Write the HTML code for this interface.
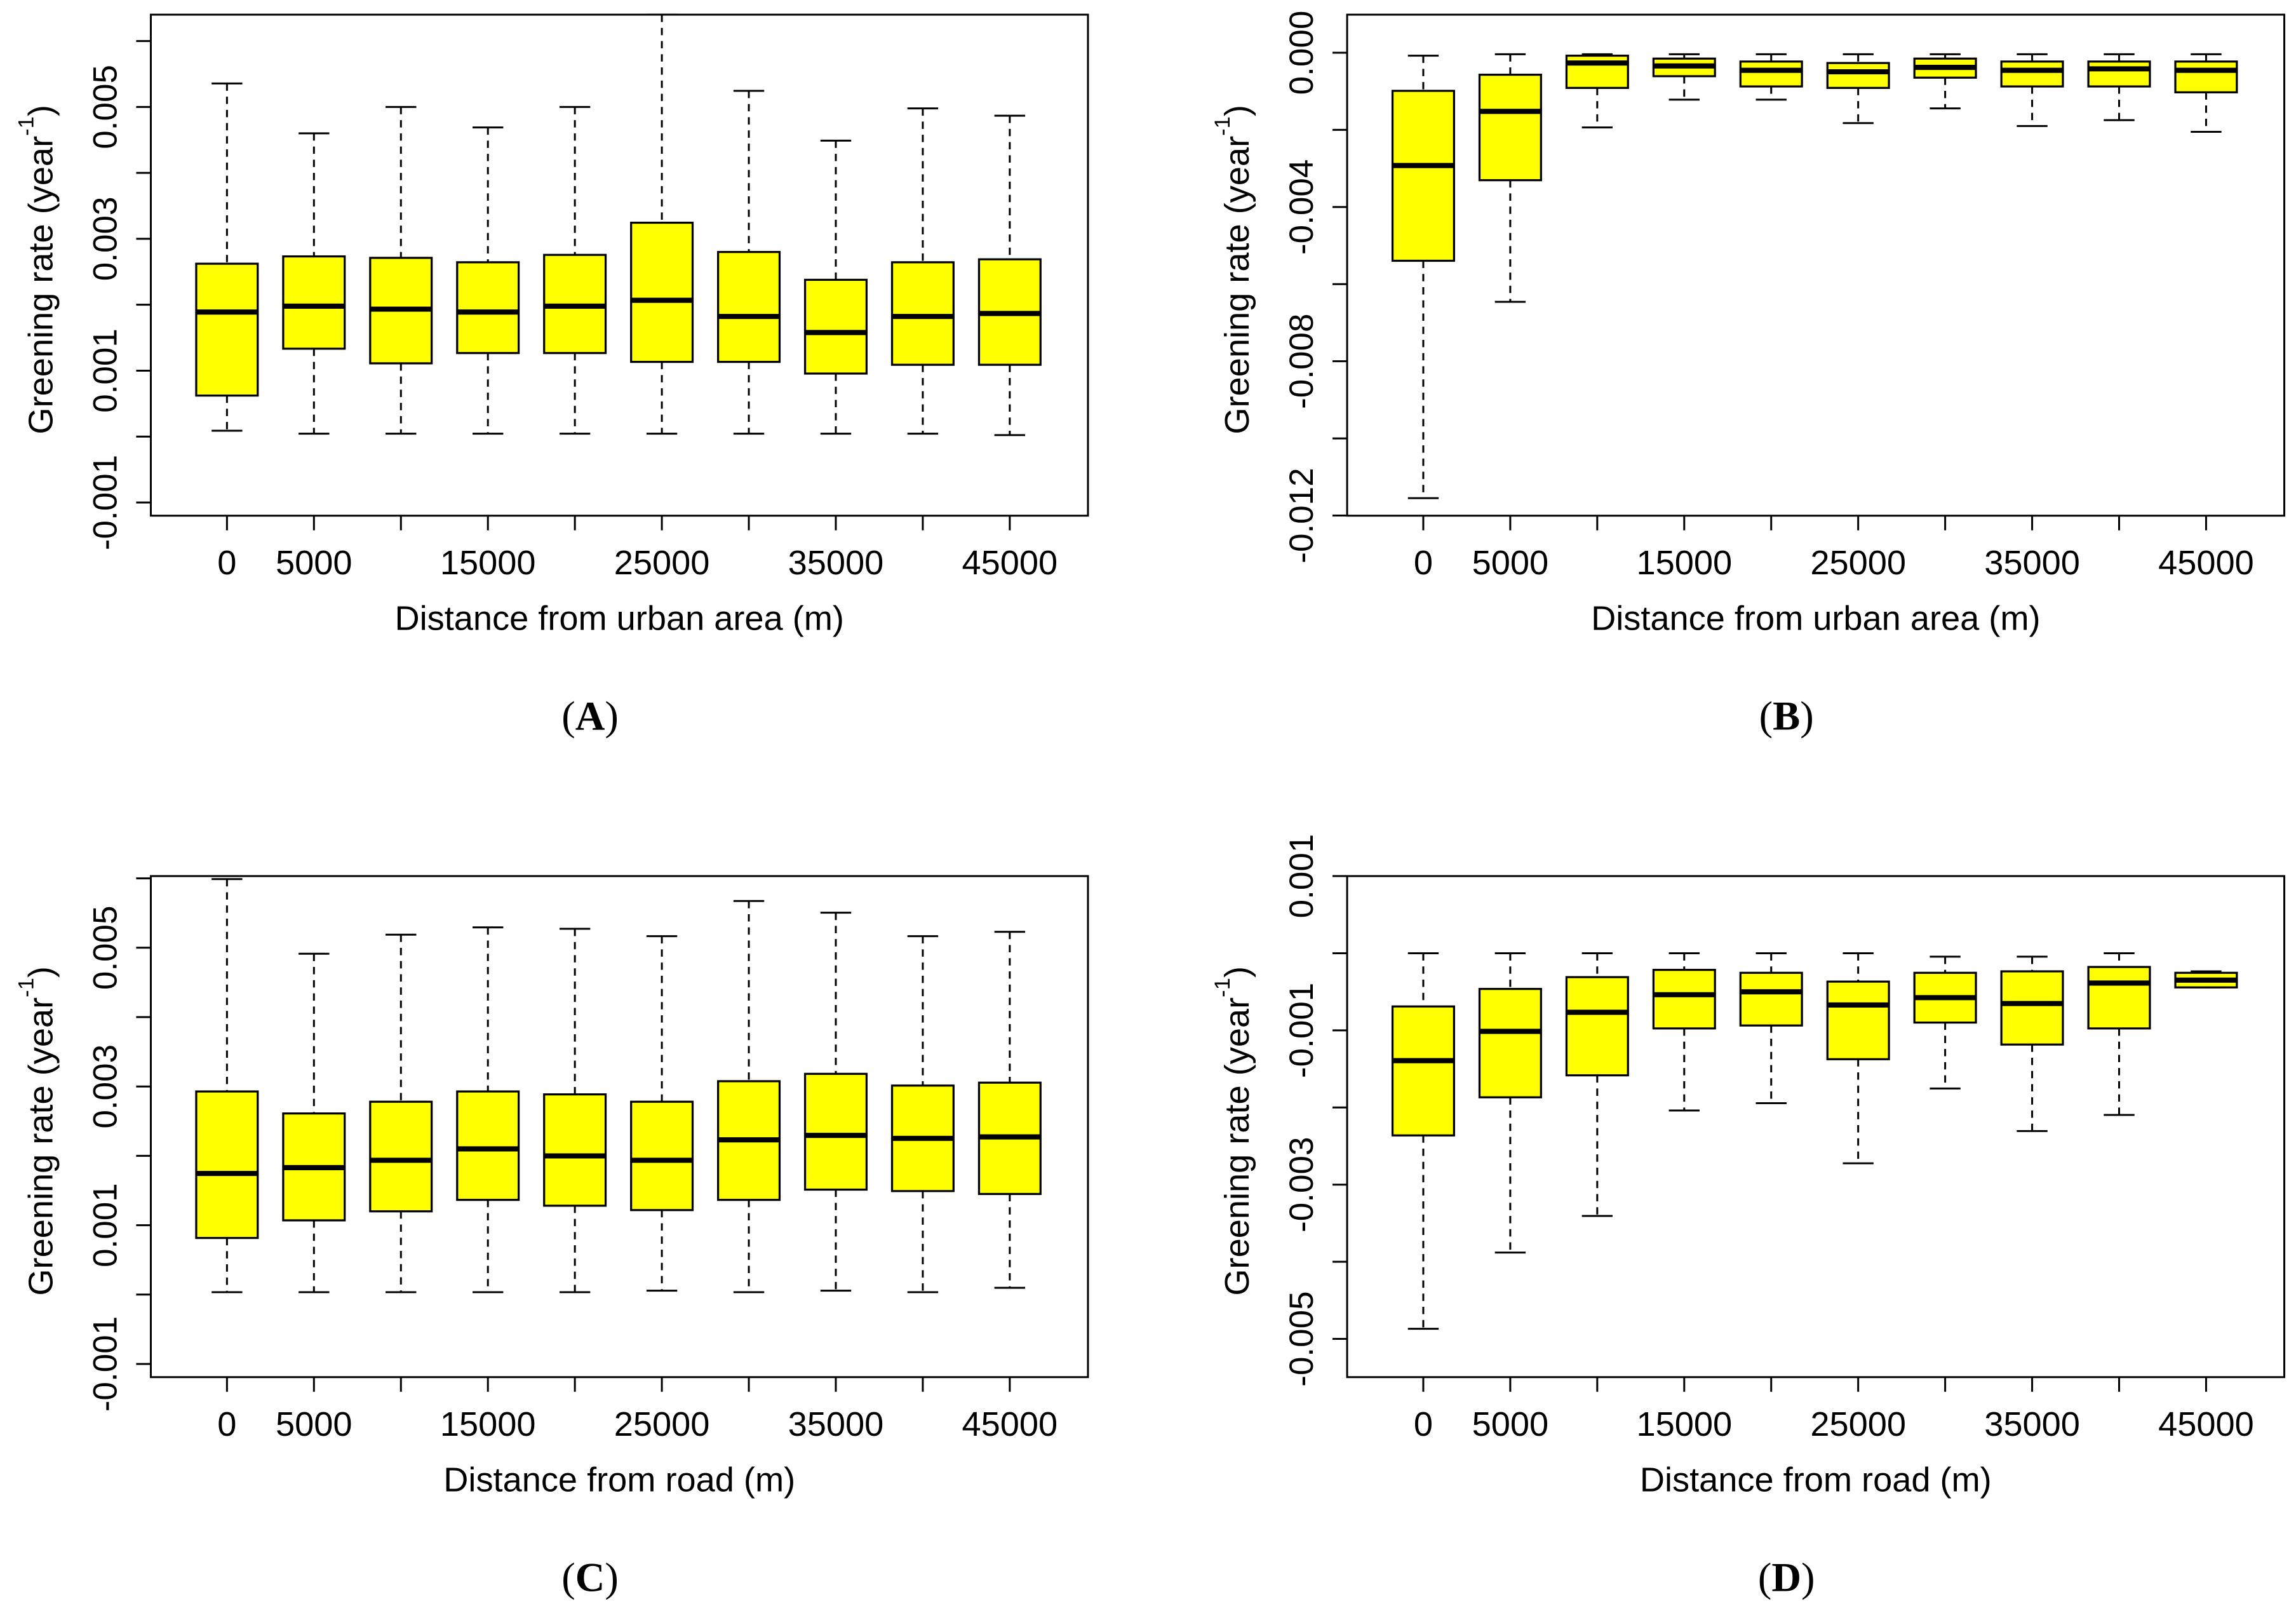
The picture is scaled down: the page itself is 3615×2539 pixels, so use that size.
<!DOCTYPE html>
<html><head><meta charset="utf-8"><style>
html,body{margin:0;padding:0;background:#fff}
svg{display:block}
text{font-family:"Liberation Sans",Arial,sans-serif;fill:#000}
.pl{font-family:"Liberation Serif","Times New Roman",serif}
</style></head><body>
<svg id="fig" width="3615" height="2539" viewBox="0 0 1568 1101" preserveAspectRatio="none" xmlns="http://www.w3.org/2000/svg"></svg>
<script>
const categories=[0,5000,10000,15000,20000,25000,30000,35000,40000,45000];
const xLabels=["0","5000","","15000","","25000","","35000","","45000"];
// Panel A stats: [whiskerLow, Q1, median, Q3, whiskerHigh]
const aLow=[0.000089,0.000044,0.000044,0.000044,0.000044,0.000044,0.000044,0.000044,0.000044,0.000022];
const aQ1=[0.000622,0.001333,0.001111,0.001267,0.001267,0.001133,0.001133,0.000956,0.001089,0.001089];
const aMed=[0.001889,0.001978,0.001933,0.001889,0.001978,0.002067,0.001822,0.001578,0.001822,0.001867];
const aQ3=[0.002622,0.002733,0.002711,0.002644,0.002756,0.003244,0.0028,0.002378,0.002644,0.002689];
const aHigh=[0.005356,0.0046,0.005,0.004689,0.005,0.0064,0.005244,0.004489,0.004978,0.004867];
const bLow=[-0.011548,-0.006458,-0.001937,-0.001216,-0.001216,-0.001823,-0.001444,-0.0019,-0.001747,-0.002051];
const bQ1=[-0.005394,-0.003305,-0.000912,-0.000608,-0.000874,-0.000912,-0.000646,-0.000874,-0.000874,-0.001026];
const bMed=[-0.002925,-0.00152,-0.000266,-0.000342,-0.000456,-0.000494,-0.00038,-0.000456,-0.000418,-0.000456];
const bQ3=[-0.000988,-0.00057,-0.000076,-0.000152,-0.000228,-0.000266,-0.000152,-0.000228,-0.000228,-0.000228];
const bHigh=[-0.000076,-0.000038,-0.000038,-0.000038,-0.000038,-0.000038,-0.000038,-0.000038,-0.000038,-0.000038];
const cLow=[0.000035,0.000035,0.000035,0.000035,0.000035,0.000056,0.000035,0.000056,0.000035,0.000098];
const cQ1=[0.000816,0.00107,0.0012,0.001365,0.001281,0.001218,0.001365,0.001513,0.001492,0.00145];
const cMed=[0.001746,0.00183,0.001936,0.0021,0.001999,0.001936,0.002231,0.002295,0.002252,0.002273];
const cQ3=[0.002928,0.002611,0.00278,0.002928,0.002886,0.00278,0.003076,0.003182,0.003013,0.003055];
const cHigh=[0.00599,0.004913,0.005188,0.005294,0.005273,0.005167,0.005674,0.005505,0.005167,0.00523];
const dLow=[-0.004869,-0.003881,-0.003406,-0.002039,-0.001944,-0.002723,-0.001754,-0.002305,-0.002096,-0.000443];
const dQ1=[-0.002362,-0.001868,-0.001583,-0.000975,-0.000937,-0.001374,-0.000899,-0.001184,-0.000975,-0.000443];
const dMed=[-0.001393,-0.001013,-0.000766,-0.000538,-0.0005,-0.000671,-0.000576,-0.000652,-0.000387,-0.000349];
const dQ3=[-0.00069,-0.000463,-0.00031,-0.000216,-0.000254,-0.000368,-0.000254,-0.000235,-0.000178,-0.000254];
const dHigh=[0,0,0,0,0,0,-0.000045,-0.000045,0,-0.000235];
const ticksAC=[-0.001,0,0.001,0.002,0.003,0.004,0.005,0.006];
const labelsAC=["-0.001","","0.001","","0.003","","0.005",""];
const ticksB=[-0.012,-0.01,-0.008,-0.006,-0.004,-0.002,0];
const labelsB=["-0.012","","-0.008","","-0.004","","0.000"];
const ticksD=[-0.005,-0.004,-0.003,-0.002,-0.001,0,0.001];
const labelsD=["-0.005","","-0.003","","-0.001","","0.001"];

const NS="http://www.w3.org/2000/svg";
const svg=document.getElementById('fig');
function el(tag,attrs,parent,txt){const e=document.createElementNS(NS,tag);for(const k in attrs)e.setAttribute(k,attrs[k]);if(txt!==undefined)e.textContent=txt;(parent||svg).appendChild(e);return e;}

function panel(o){
  const g=el('g',{});
  
  
  const y=v=>o.yRef-(v-o.vRef)*o.k;
  const x=i=>o.x0+52+i*59.4;
  o.ticks.forEach((t,i)=>{
    const ty=y(t);
    const tk=el('line',{x1:o.x0-10,x2:o.x0,y1:ty,y2:ty,stroke:'#000','stroke-width':1.3},g);
    
    
    if(o.labels[i]){
      const lx=o.x0-31;
      const t2=el('text',{x:lx,y:ty,'font-size':23,'text-anchor':'middle','dominant-baseline':'central',transform:`rotate(-90 ${lx} ${ty})`},g,o.labels[i]);
      
      
    }
  });
  categories.forEach((c,i)=>{
    const tx=x(i);
    const tk=el('line',{x1:tx,x2:tx,y1:o.y1,y2:o.y1+10,stroke:'#000','stroke-width':1.3},g);
    
    
    if(xLabels[i]){
      const t2=el('text',{x:tx,y:o.y1+40,'font-size':23.5,'text-anchor':'middle'},g,xLabels[i]);
      
      
    }
  });
  categories.forEach((c,i)=>{
    const cx=x(i);
    const bg=el('g',{},g);
    
    
    const lo=y(o.low[i]),q1=y(o.q1[i]),md=y(o.med[i]),q3=y(o.q3[i]),hi=y(o.high[i]);
    el('line',{x1:cx,x2:cx,y1:hi,y2:q3,stroke:'#000','stroke-width':1.3,'stroke-dasharray':'5,4'},bg);
    el('line',{x1:cx,x2:cx,y1:q1,y2:lo,stroke:'#000','stroke-width':1.3,'stroke-dasharray':'5,4'},bg);
    el('line',{x1:cx-10.5,x2:cx+10.5,y1:hi,y2:hi,stroke:'#000','stroke-width':1.3},bg);
    el('line',{x1:cx-10.5,x2:cx+10.5,y1:lo,y2:lo,stroke:'#000','stroke-width':1.3},bg);
    el('rect',{x:cx-21,y:q3,width:42,height:Math.max(q1-q3,0.5),fill:'#ffff00',stroke:'#000','stroke-width':1.4},bg);
    el('line',{x1:cx-21,x2:cx+21,y1:md,y2:md,stroke:'#000','stroke-width':3.5},bg);
  });
  const fr=el('rect',{x:o.x0,y:o.y0,width:o.x1-o.x0,height:o.y1-o.y0,fill:'none',stroke:'#000','stroke-width':1.3},g);
  
  
  const xc=(o.x0+o.x1)/2;
  const xt=el('text',{x:xc,y:o.y1+78,'font-size':23.5,'text-anchor':'middle'},g,o.xTitle);
  
  
  const yc=(o.y0+o.y1)/2+3, yx=o.x0-75;
  const yt=el('text',{x:yx,y:yc,'font-size':23.5,'text-anchor':'middle','dominant-baseline':'central',transform:`rotate(-90 ${yx} ${yc})`},g);
  
  
  el('tspan',{},yt,'Greening rate (year');
  el('tspan',{'font-size':15,dy:-10},yt,'-1');
  el('tspan',{dy:10},yt,')');
  const pl=el('text',{x:xc-20,y:o.y1+146,'font-size':28,'text-anchor':'middle',class:'pl'},g);
  
  
  el('tspan',{},pl,'(');
  el('tspan',{'font-weight':'bold'},pl,o.id);
  el('tspan',{},pl,')');
}
panel({id:'A',x0:103,x1:743,y0:10,y1:352,yRef:343,vRef:-0.001,k:45000,ticks:ticksAC,labels:labelsAC,low:aLow,q1:aQ1,med:aMed,q3:aQ3,high:aHigh,xTitle:'Distance from urban area (m)'});
panel({id:'B',x0:920,x1:1560,y0:10,y1:352,yRef:36,vRef:0,k:26325,ticks:ticksB,labels:labelsB,low:bLow,q1:bQ1,med:bMed,q3:bQ3,high:bHigh,xTitle:'Distance from urban area (m)'});
panel({id:'C',x0:103,x1:743,y0:598,y1:940,yRef:931,vRef:-0.001,k:47350,ticks:ticksAC,labels:labelsAC,low:cLow,q1:cQ1,med:cMed,q3:cQ3,high:cHigh,xTitle:'Distance from road (m)'});
panel({id:'D',x0:920,x1:1560,y0:598,y1:940,yRef:598,vRef:0.001,k:52650,ticks:ticksD,labels:labelsD,low:dLow,q1:dQ1,med:dMed,q3:dQ3,high:dHigh,xTitle:'Distance from road (m)'});
</script>
</body></html>
